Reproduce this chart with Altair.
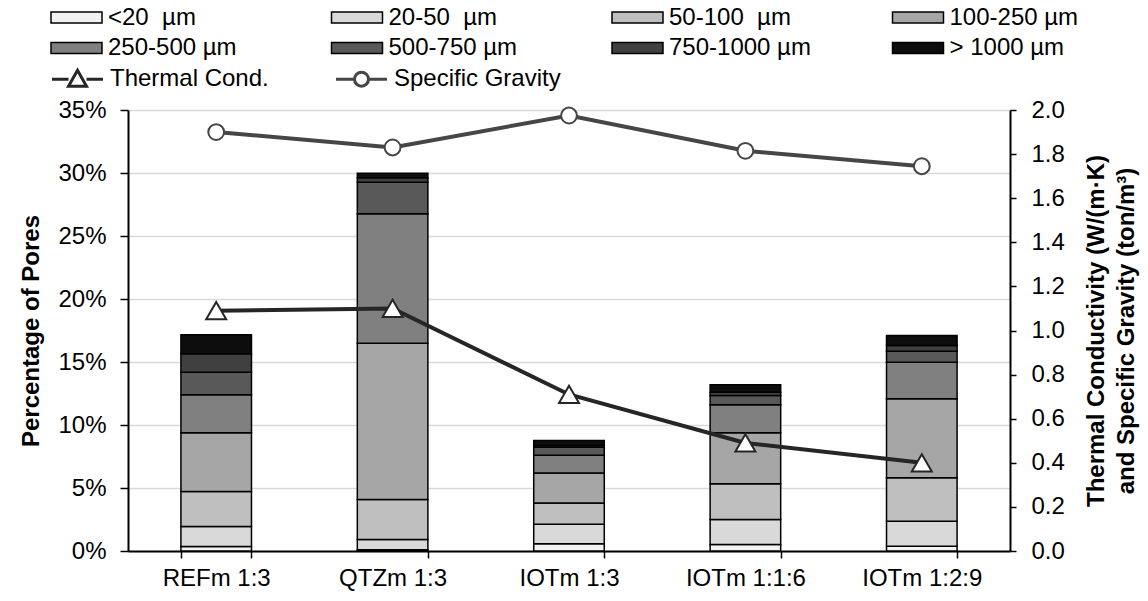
import altair as alt
import pandas as pd

categories = ["REFm 1:3", "QTZm 1:3", "IOTm 1:3", "IOTm 1:1:6", "IOTm 1:2:9"]
size_classes = ["<20\u00a0 µm", "20-50\u00a0 µm", "50-100\u00a0 µm", "100-250 µm",
                "250-500 µm", "500-750 µm", "750-1000 µm", "> 1000 µm"]
gray_shades = ["#f2f2f2", "#d9d9d9", "#bfbfbf", "#a6a6a6",
               "#808080", "#595959", "#404040", "#0d0d0d"]

lt20 = [0.36, 0.10, 0.57, 0.52, 0.38]
p20_50 = [1.58, 0.81, 1.56, 1.98, 1.99]
p50_100 = [2.78, 3.18, 1.67, 2.83, 3.44]
p100_250 = [4.66, 12.40, 2.40, 4.05, 6.27]
p250_500 = [3.02, 10.27, 1.40, 2.22, 2.90]
p500_750 = [1.79, 2.51, 0.64, 0.74, 0.88]
p750_1000 = [1.46, 0.35, 0.13, 0.26, 0.44]
gt1000 = [1.51, 0.36, 0.40, 0.59, 0.80]

thermal_cond = [1.09, 1.10, 0.71, 0.49, 0.40]
specific_gravity = [1.90, 1.83, 1.975, 1.815, 1.745]

series_names = ["Thermal Cond.", "Specific Gravity"]
line_colors = ["#262626", "#464646"]

pore_series = [lt20, p20_50, p50_100, p100_250, p250_500, p500_750, p750_1000, gt1000]
rows = []
for k, (cls, vals) in enumerate(zip(size_classes, pore_series)):
    for c, v in zip(categories, vals):
        rows.append({"cat": c, "cls": cls, "order": k, "pct": v})
bars_df = pd.DataFrame(rows)

lrows = []
for c, t, s in zip(categories, thermal_cond, specific_gravity):
    lrows.append({"cat": c, "series": series_names[0], "val": t})
    lrows.append({"cat": c, "series": series_names[1], "val": s})
lines_df = pd.DataFrame(lrows)

FONT = "Liberation Sans"
FS = 24

x_enc = alt.X("cat:N", sort=categories,
              scale=alt.Scale(paddingInner=0.6, paddingOuter=0.3),
              axis=alt.Axis(title=None, labelAngle=0, labelFontSize=FS, labelFont=FONT,
                            labelColor="black", tickBand="extent", tickSize=7,
                            tickColor="black", tickWidth=1.5, domainColor="black",
                            domainWidth=2, labelPadding=8))

# legend symbol paths (symbolSize 506 -> scale 11.25 px per unit)
bar_path = "M-2.267,-0.49H2.267V0.49H-2.267Z"
tri_sym = "M-2.267,0H-0.8M0.8,0H2.267M-0.8,0.62L0,-0.8L0.8,0.62Z"
circ_sym = ("M-2.267,0H-0.622M0.622,0H2.267M0.622,0"
            "A0.622,0.622 0 1,1 -0.622,0A0.622,0.622 0 1,1 0.622,0Z")
sym_expr = "datum.value === 'Thermal Cond.' ? '" + tri_sym + "' : '" + circ_sym + "'"

bars = alt.Chart(bars_df).mark_bar(stroke="black", strokeWidth=1.5).encode(
    x=x_enc,
    y=alt.Y("pct:Q", stack="zero",
            scale=alt.Scale(domain=[0, 35], nice=False),
            axis=alt.Axis(title="Percentage of Pores", values=[0, 5, 10, 15, 20, 25, 30, 35],
                          labelExpr="datum.value + '%'", labelFontSize=FS, labelFont=FONT,
                          labelColor="black", titleFontSize=FS, titleFont=FONT,
                          titleFontWeight="bold", titleColor="black", grid=True,
                          gridColor="#d9d9d9", gridWidth=1.5, tickColor="black",
                          tickSize=8, tickWidth=1.5, domainColor="black", domainWidth=2,
                          labelPadding=14, titlePadding=14)),
    color=alt.Color("cls:N", sort=size_classes,
                    scale=alt.Scale(domain=size_classes, range=gray_shades),
                    legend=alt.Legend(title=None, orient="none", legendX=-77, legendY=-104.5,
                                      columns=4, direction="horizontal", symbolType=bar_path,
                                      symbolSize=506, symbolStrokeColor="black",
                                      symbolStrokeWidth=1.5, symbolOffset=13.5,
                                      labelFontSize=FS, labelFont=FONT, labelLimit=400,
                                      labelColor="black", columnPadding=78.5, rowPadding=6.6,
                                      gridAlign="all", labelOffset=19.5)),
    order=alt.Order("order:Q", sort="ascending"),
)

y_right = alt.Y("val:Q", scale=alt.Scale(domain=[0, 2], nice=False),
                axis=alt.Axis(orient="right",
                              title=["Thermal Conductivity (W/(m·K)", "and Specific Gravity (ton/m³)"],
                              values=[0, 0.2, 0.4, 0.6, 0.8, 1.0, 1.2, 1.4, 1.6, 1.8, 2.0],
                              format=".1f", labelFontSize=FS, labelFont=FONT, labelColor="black",
                              titleFontSize=FS, titleFont=FONT, titleFontWeight="bold",
                              titleColor="black", titleAngle=270, grid=False, tickColor="black",
                              tickSize=6, tickWidth=1.5, domainColor="black", domainWidth=2,
                              labelPadding=15, titlePadding=14, titleLineHeight=30))

stroke_scale = alt.Scale(domain=series_names, range=line_colors)

lines = alt.Chart(lines_df).mark_line(strokeWidth=4).encode(
    x=alt.X("cat:N", sort=categories),
    y=y_right,
    stroke=alt.Stroke("series:N", sort=series_names, scale=stroke_scale, legend=None),
    detail="series:N",
)

y_pts = alt.Y("val:Q", scale=alt.Scale(domain=[0, 2], nice=False), axis=None)

tri_pts = alt.Chart(lines_df).transform_filter(
    alt.datum.series == series_names[0]
).mark_point(shape="triangle-up", size=400, filled=False, fill="white", strokeWidth=2,
             opacity=1, fillOpacity=1).encode(
    x=alt.X("cat:N", sort=categories),
    y=y_pts,
    stroke=alt.Stroke("series:N", sort=series_names, scale=stroke_scale,
                      legend=alt.Legend(title=None, orient="none", legendX=-77, legendY=-43.8,
                                        direction="horizontal", columns=4, symbolSize=506,
                                        symbolType=alt.ExprRef(expr=sym_expr),
                                        symbolFillColor="white", symbolStrokeWidth=3,
                                        symbolOpacity=1, symbolOffset=13.5,
                                        labelFontSize=FS, labelFont=FONT, labelColor="black",
                                        labelLimit=400, columnPadding=53, gridAlign="all",
                                        labelOffset=19.5)),
)

circ_pts = alt.Chart(lines_df).transform_filter(
    alt.datum.series == series_names[1]
).mark_point(shape="circle", size=250, filled=False, fill="white", strokeWidth=2,
             opacity=1, fillOpacity=1).encode(
    x=alt.X("cat:N", sort=categories),
    y=y_pts,
    stroke=alt.Stroke("series:N", sort=series_names, scale=stroke_scale, legend=None),
)

chart = alt.layer(bars, lines, tri_pts, circ_pts).resolve_scale(
    y="independent"
).resolve_legend(
    stroke="independent"
).properties(
    width=882, height=441,
    autosize=alt.AutoSizeParams(type="none"),
    padding={"left": 128, "top": 110, "right": 138, "bottom": 50},
).configure_view(
    stroke="black", strokeWidth=1.5
).configure(background="white")

chart.save("out.html", embed_options={"renderer": "svg", "actions": False})
